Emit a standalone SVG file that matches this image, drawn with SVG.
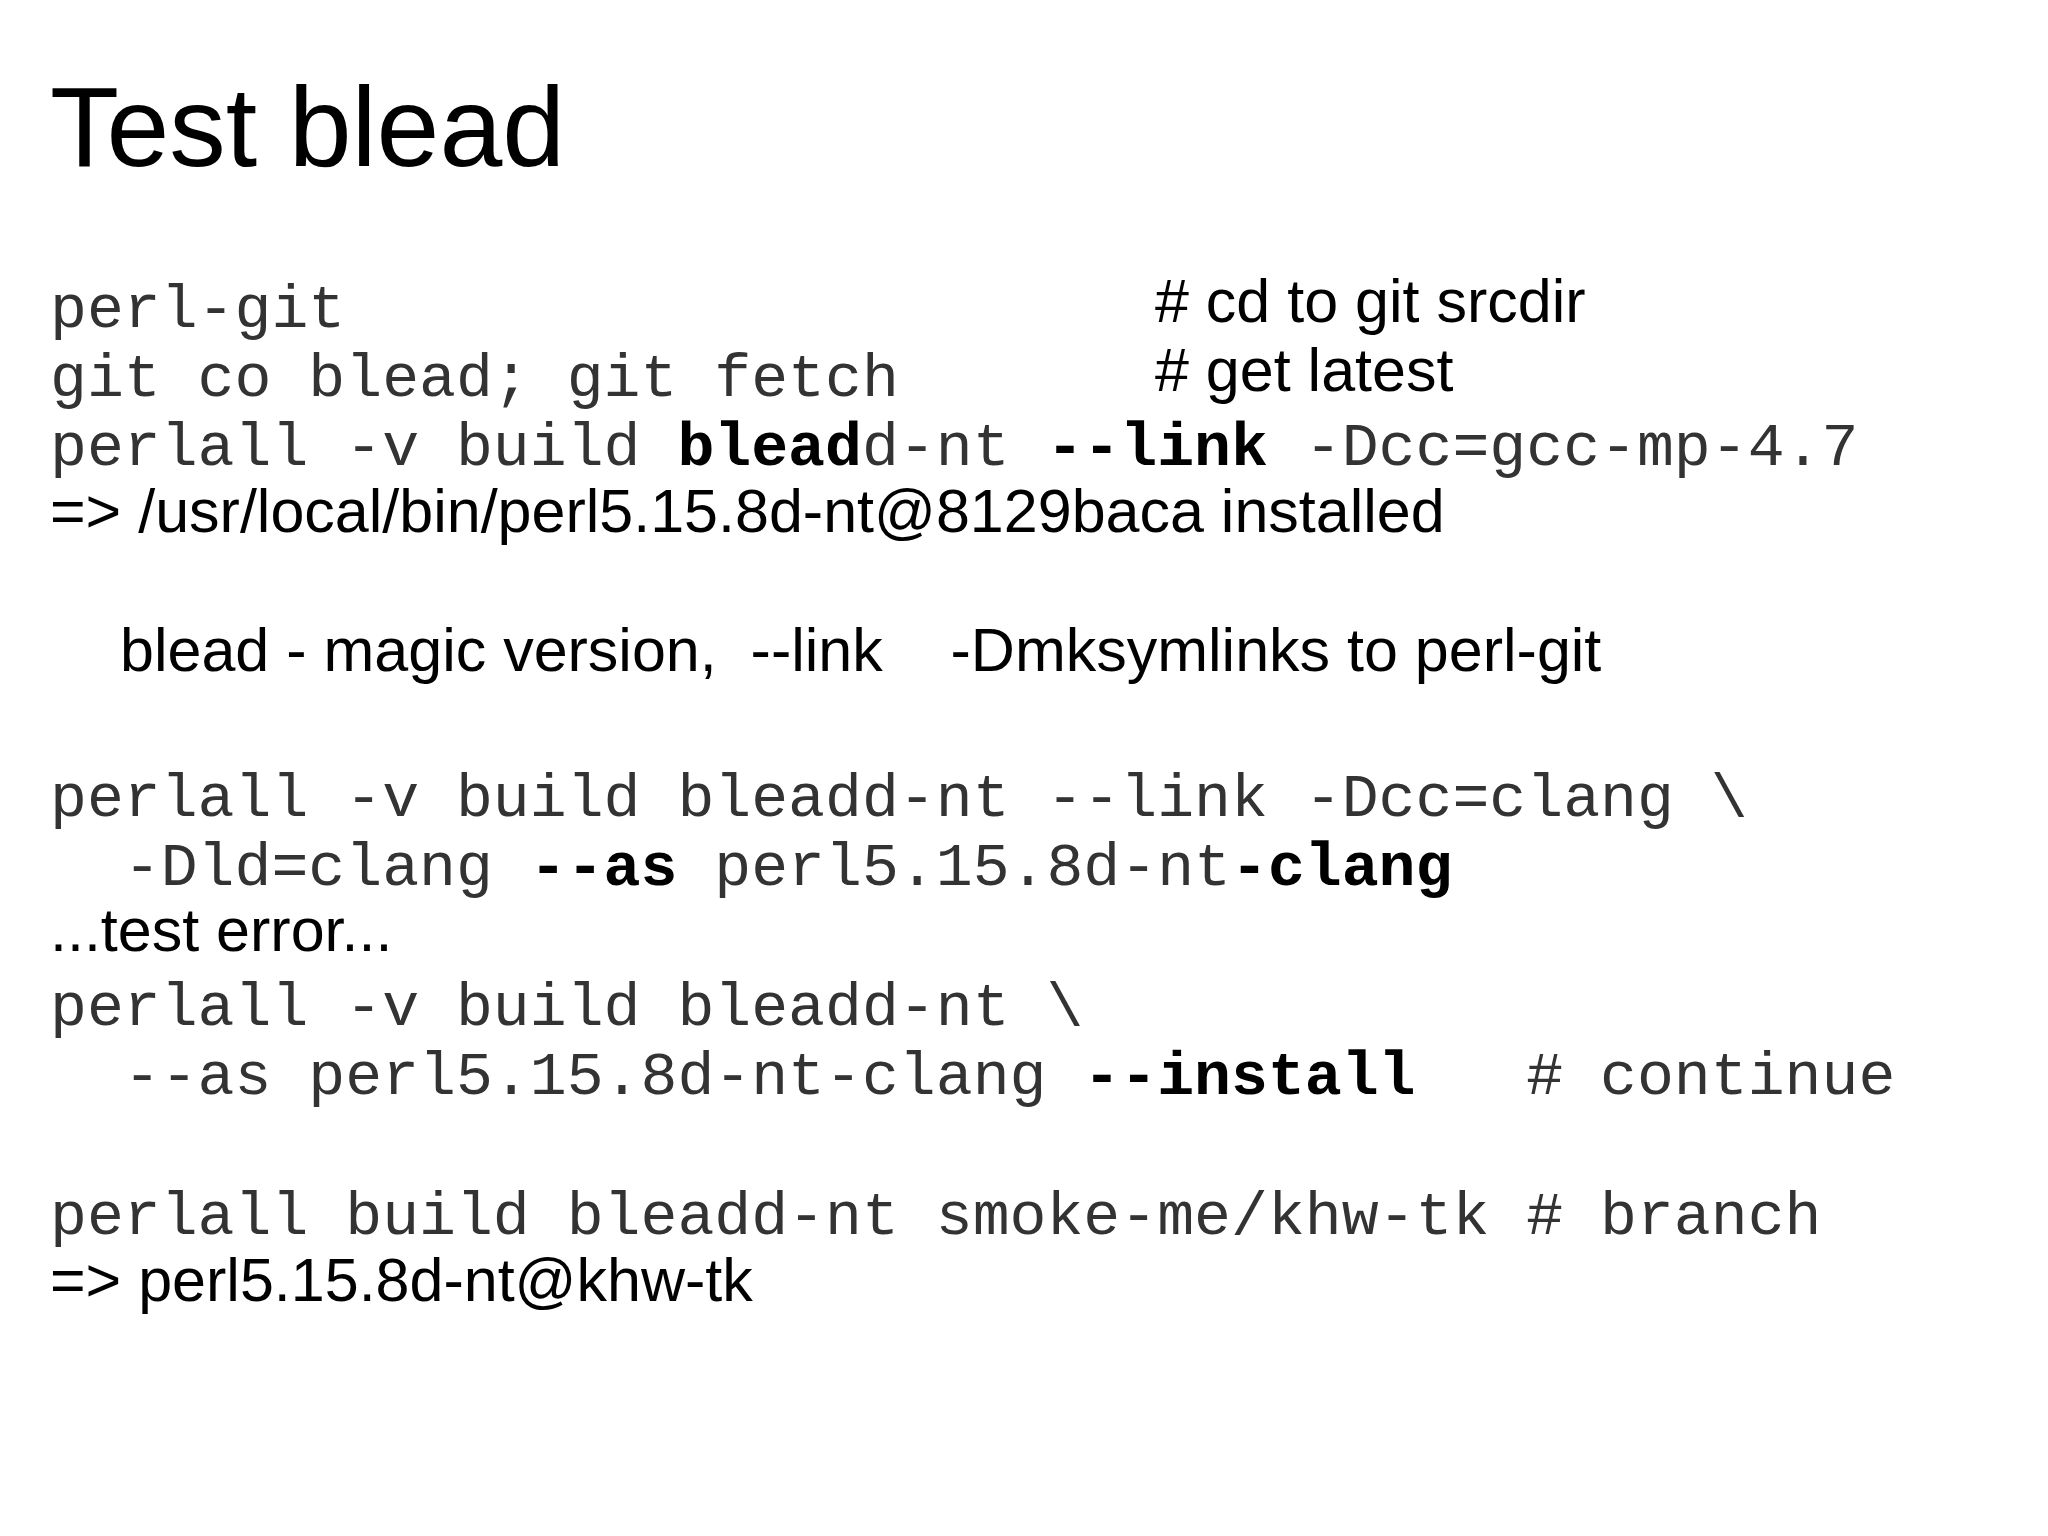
<svg xmlns="http://www.w3.org/2000/svg" width="2048" height="1536" viewBox="0 0 2048 1536">
<style>
.m{font-family:"Liberation Mono",monospace;font-size:61.5px;fill:#333;white-space:pre}
.b{font-weight:bold;fill:#000}
.s{font-family:"Liberation Sans",Arial,sans-serif;font-size:61px;fill:#000;white-space:pre}
</style>
<rect width="2048" height="1536" fill="#fff"/>
<text x="50" y="166" font-family="Liberation Sans,Arial,sans-serif" font-size="113" fill="#000">Test blead</text>
<g xml:space="preserve">
<text class="m" x="50" y="327">perl-git</text>
<text class="s" x="1155" y="322"># cd to git srcdir</text>
<text class="m" x="50" y="396">git co blead; git fetch</text>
<text class="s" x="1155" y="391"># get latest</text>
<text class="m" x="50" y="465">perlall -v build <tspan class="b">blead</tspan>d-nt <tspan class="b">--link</tspan> -Dcc=gcc-mp-4.7</text>
<text class="s" x="50" y="532">=&gt; /usr/local/bin/perl5.15.8d-nt@8129baca installed</text>
<text class="s" x="120" y="671">blead - magic version,  --link    -Dmksymlinks to perl-git</text>
<text class="m" x="50" y="816">perlall -v build bleadd-nt --link -Dcc=clang \</text>
<text class="m" x="50" y="885">  -Dld=clang <tspan class="b">--as</tspan> perl5.15.8d-nt<tspan class="b">-clang</tspan></text>
<text class="s" x="50" y="951">...test error...</text>
<text class="m" x="50" y="1025">perlall -v build bleadd-nt \</text>
<text class="m" x="50" y="1094">  --as perl5.15.8d-nt-clang <tspan class="b">--install</tspan>   # continue</text>
<text class="m" x="50" y="1234">perlall build bleadd-nt smoke-me/khw-tk # branch</text>
<text class="s" x="50" y="1301">=&gt; perl5.15.8d-nt@khw-tk</text>
</g>
</svg>
